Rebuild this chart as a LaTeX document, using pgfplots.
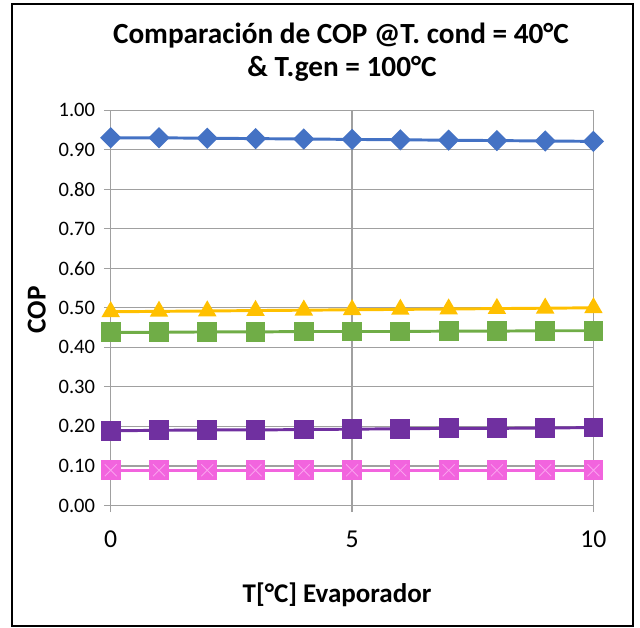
\documentclass[border=0pt]{standalone}
\usepackage{pgfplots}
\pgfplotsset{compat=1.18}
\usepackage{fontspec}
\setmainfont{Carlito}
\definecolor{cBlue}{HTML}{4472C4}
\definecolor{cYellow}{HTML}{FFC000}
\definecolor{cGreen}{HTML}{70AD47}
\definecolor{cPurple}{HTML}{7030A0}
\definecolor{cPink}{RGB}{242,100,222}
\definecolor{cPinkL}{RGB}{250,160,238}
\definecolor{cGrid}{RGB}{160,160,160}
\pgfplotstableread{
x  blue   yellow green  purple pink
0  0.930  0.490  0.438  0.189  0.089
1  0.930  0.491  0.438  0.190  0.089
2  0.929  0.492  0.439  0.191  0.089
3  0.928  0.493  0.439  0.191  0.089
4  0.927  0.494  0.440  0.192  0.089
5  0.926  0.495  0.440  0.193  0.089
6  0.925  0.496  0.440  0.194  0.089
7  0.924  0.497  0.441  0.195  0.089
8  0.923  0.498  0.441  0.195  0.089
9  0.922  0.499  0.442  0.196  0.089
10 0.921  0.500  0.442  0.197  0.089
}\data
\begin{document}
\begin{tikzpicture}[x=0.025cm,y=0.025cm]
\path[use as bounding box] (0,0) rectangle (640,628);
\draw[line width=1.8pt] (12,2) rectangle (633,624);
\begin{axis}[
  at={(2.7675cm,3.0625cm)}, anchor=south west,
  scale only axis, width=12.065cm, height=9.88cm,
  xmin=0, xmax=10, ymin=0, ymax=1,
  xtick={0,5,10}, ytick={0,0.1,...,1.0},
  axis line style={cGrid, line width=0.9pt},
  grid=major, major grid style={cGrid, line width=0.9pt},
  tick style={cGrid, line width=0.9pt},
  tick align=outside, major tick length=4.8pt,
  xtick pos=left, ytick pos=left,
  /pgf/number format/assume math mode=true,
  yticklabel style={font=\fontsize{14.6}{17}\selectfont, xshift=-2pt, /pgf/number format/.cd, fixed, fixed zerofill, precision=2},
  xticklabel style={font=\fontsize{18.3}{21}\selectfont, yshift=-9pt},
  line width=2.1pt,
]
\addplot[cBlue, mark=square*, mark size=4.3pt, mark options={rotate=45}] table[x=x,y=blue]{\data};
\addplot[cYellow, mark=triangle*, mark size=5.5pt] table[x=x,y=yellow]{\data};
\addplot[cGreen, mark=square*, mark size=6pt] table[x=x,y=green]{\data};
\addplot[cPurple, mark=square*, mark size=6pt] table[x=x,y=purple]{\data};
\addplot[cPink, mark=square*, mark size=6pt] table[x=x,y=pink]{\data};
\addplot[only marks, cPinkL, mark=x, mark size=6pt, mark options={line width=0.6pt}, forget plot] table[x=x,y=pink]{\data};
\end{axis}
\node[anchor=base, font=\bfseries\fontsize{20.8}{24}\selectfont] at (341,584.5) {Comparación de COP @T. cond = 40°C};
\node[anchor=base, font=\bfseries\fontsize{20.8}{24}\selectfont] at (342,551.5) {\& T.gen = 100°C};
\node[anchor=base, font=\bfseries\fontsize{19.2}{22}\selectfont] at (337,25) {T[°C] Evaporador};
\node[font=\bfseries\fontsize{19.4}{22}\selectfont, rotate=90] at (36.7,318) {COP};
\end{tikzpicture}
\end{document}
